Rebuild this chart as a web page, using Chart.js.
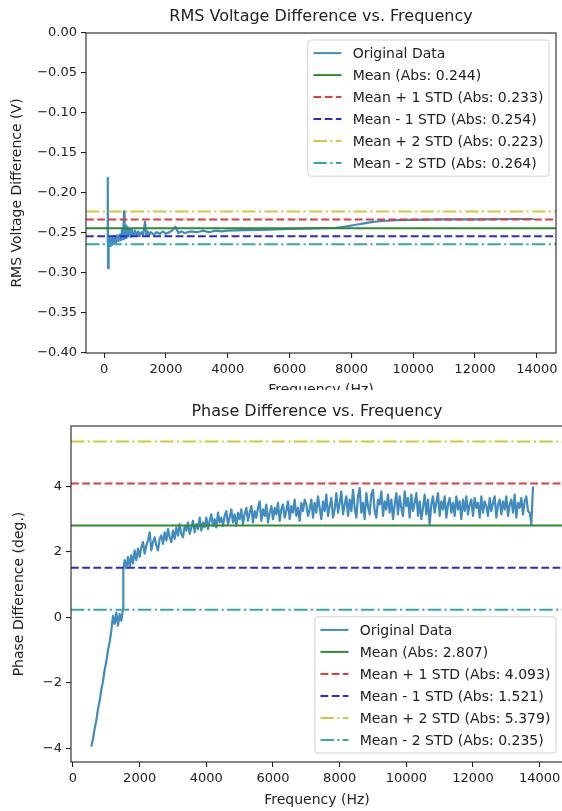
<!DOCTYPE html>
<html>
<head>
<meta charset="utf-8">
<script src="https://cdn.jsdelivr.net/npm/chart.js@4.4.1/dist/chart.umd.min.js"></script>
<style>
  body { margin: 0; background: #fff; }
  #box1 { position: absolute; left: 0; top: 0; width: 562px; height: 400px; }
  #box2 { position: absolute; left: 0; top: 390px; width: 562px; height: 421px; overflow: hidden; background: #fff; }
</style>
</head>
<body>
<div id="box1"><canvas id="rmsChart" width="562" height="400"></canvas></div>
<div id="box2"><canvas id="phaseChart" width="572" height="421"></canvas></div>
<script>

// ---- data ----
var rmsFreq = [100, 115, 125, 135, 150, 170, 190, 210, 240, 270, 300, 340, 380, 420, 460, 500, 540, 580, 610, 640,
  660, 690, 720, 750, 780, 820, 860, 900, 950, 1000, 1050, 1100, 1150, 1200, 1260, 1320, 1360, 1400, 1450, 1500,
  1600, 1700, 1800, 1900, 2000, 2100, 2200, 2300, 2400, 2500, 2600, 2800, 3000, 3200, 3400, 3600, 3800, 4000,
  4500, 5000, 5500, 6000, 6500, 7000, 7500, 7800, 8100, 8400, 8700, 9000, 9500, 10000, 11000, 12000, 13000, 13900];
var rmsVolt = [-0.262, -0.181, -0.294, -0.258, -0.268, -0.256, -0.266, -0.257, -0.265, -0.255, -0.263, -0.254, -0.262, -0.253, -0.260, -0.252, -0.259, -0.244, -0.258, -0.223,
  -0.257, -0.240, -0.256, -0.242, -0.254, -0.245, -0.255, -0.246, -0.254, -0.247, -0.253, -0.248, -0.254, -0.249, -0.252, -0.236, -0.253, -0.248, -0.253, -0.249,
  -0.252, -0.249, -0.251, -0.248, -0.251, -0.249, -0.247, -0.242, -0.250, -0.248, -0.250, -0.248, -0.249, -0.247, -0.249, -0.247, -0.248, -0.247,
  -0.2465, -0.246, -0.2455, -0.245, -0.2445, -0.244, -0.2435, -0.242, -0.240, -0.238, -0.236, -0.235, -0.234, -0.2335, -0.233, -0.233, -0.2325, -0.2325];

var phaseFreq = [550, 600, 650, 700, 750, 800, 850, 900, 950, 1000, 1050, 1100, 1150, 1200, 1250, 1300, 1350, 1400, 1450, 1500,
  1510, 1550, 1600, 1650, 1700, 1750, 1800, 1850, 1900, 1950,
  2000, 2050, 2100, 2150, 2200, 2250, 2300, 2350, 2400, 2450, 2500, 2550, 2600, 2650, 2700, 2750, 2800, 2850, 2900, 2950,
  3000, 3050, 3100, 3150, 3200, 3250, 3300, 3350, 3400, 3450, 3500, 3550, 3600, 3650, 3700, 3750, 3800, 3850, 3900, 3950,
  4000, 4050, 4100, 4150, 4200, 4250, 4300, 4350, 4400, 4450, 4500, 4550, 4600, 4650, 4700, 4750, 4800, 4850, 4900, 4950,
  5000, 5050, 5100, 5150, 5200, 5250, 5300, 5350, 5400, 5450, 5500, 5550, 5600, 5650, 5700, 5750, 5800, 5850, 5900, 5950,
  6000, 6050, 6100, 6150, 6200, 6250, 6300, 6350, 6400, 6450, 6500, 6550, 6600, 6650, 6700, 6750, 6800, 6850, 6900, 6950,
  7000, 7050, 7100, 7150, 7200, 7250, 7300, 7350, 7400, 7450, 7500, 7550, 7600, 7650, 7700, 7750, 7800, 7850, 7900, 7950,
  8000, 8050, 8100, 8150, 8200, 8250, 8300, 8350, 8400, 8450, 8500, 8550, 8600, 8650, 8700, 8750, 8800, 8850, 8900, 8950,
  9000, 9050, 9100, 9150, 9200, 9250, 9300, 9350, 9400, 9450, 9500, 9550, 9600, 9650, 9700, 9750, 9800, 9850, 9900, 9950,
  10000, 10050, 10100, 10150, 10200, 10250, 10300, 10350, 10400, 10450, 10500, 10550, 10600, 10650, 10700, 10750, 10800, 10850, 10900, 10950,
  11000, 11050, 11100, 11150, 11200, 11250, 11300, 11350, 11400, 11450, 11500, 11550, 11600, 11650, 11700, 11750, 11800, 11850, 11900, 11950,
  12000, 12050, 12100, 12150, 12200, 12250, 12300, 12350, 12400, 12450, 12500, 12550, 12600, 12650, 12700, 12750, 12800, 12850, 12900, 12950,
  13000, 13050, 13100, 13150, 13200, 13250, 13300, 13350, 13400, 13450, 13500, 13550, 13600, 13650, 13700, 13750, 13800];
var phaseDeg = [-3.95, -3.7, -3.4, -3.15, -2.8, -2.55, -2.2, -1.95, -1.6, -1.35, -1.0, -0.75, -0.4, 0.05, -0.2, 0.15, -0.25, 0.1, -0.1, 0.25,
  1.45, 1.75, 1.5, 1.85, 1.55, 1.9, 1.65, 2.05, 1.75, 2.1,
  1.85, 2.15, 2.3, 1.95, 2.2, 2.35, 2.6, 2.05, 2.3, 2.45, 2.2, 2.05, 2.4, 2.5, 2.25, 2.6, 2.35, 2.7, 2.45, 2.3,
  2.65, 2.4, 2.75, 2.5, 2.85, 2.55, 2.45, 2.8, 2.65, 2.9, 2.55, 2.75, 2.95, 2.6, 2.85, 2.7, 3.05, 2.65, 2.9, 2.75,
  3.05, 2.7, 2.95, 3.15, 2.8, 3.0, 2.75, 3.2, 2.9, 3.05, 2.8, 3.1, 3.25, 2.85, 3.05, 3.3, 2.9, 3.15, 2.8, 3.2,
  3.0, 3.3, 2.85, 3.15, 3.35, 2.95, 3.2, 3.4, 2.9, 3.25, 3.05, 3.35, 3.55, 2.95, 3.3, 3.1, 3.45, 2.9, 3.2, 3.4,
  3.0, 3.35, 3.15, 3.5, 2.95, 3.3, 3.45, 3.05, 3.25, 3.55, 3.0, 3.4, 3.2, 3.6, 3.1, 3.35, 2.95, 3.5, 3.25, 3.6,
  3.45, 3.1, 3.3, 3.6, 3.05, 3.5, 3.2, 3.7, 3.35, 3.0, 3.55, 3.25, 3.75, 3.1, 3.4, 3.65, 3.05, 3.3, 3.8, 3.2,
  3.5, 3.85, 3.15, 3.45, 3.7, 3.1, 3.6, 3.25, 3.9, 3.35, 3.05, 3.7, 3.95, 3.2, 3.5, 3.0, 3.8, 3.4, 3.15, 3.75,
  3.9, 3.25, 3.05, 3.6, 3.45, 3.85, 3.1, 3.55, 3.3, 3.75, 3.2, 3.6, 3.0, 3.45, 3.8, 3.15, 3.7, 3.35, 3.1, 3.85,
  3.4, 3.65, 3.05, 3.75, 3.25, 3.5, 3.8, 3.1, 3.55, 3.0, 3.35, 3.75, 3.15, 3.6, 2.85, 3.45, 3.7, 3.2, 3.5, 3.8,
  3.1, 3.55, 3.3, 3.7, 3.05, 3.45, 3.65, 3.2, 3.5, 3.1, 3.7, 3.3, 3.55, 3.0, 3.6, 3.25, 3.7, 3.15, 3.45, 3.6,
  3.1, 3.65, 3.35, 3.5, 3.05, 3.7, 3.2, 3.55, 3.4, 3.1, 3.65, 3.25, 3.5, 3.7, 3.05, 3.45, 3.6, 3.15, 3.55, 3.3,
  3.7, 3.1, 3.45, 3.6, 3.2, 3.75, 3.05, 3.5, 3.35, 3.65, 3.15, 3.55, 3.7, 3.25, 3.2, 2.85, 4.0];

var statNames = ['Mean', 'Mean + 1 STD', 'Mean - 1 STD', 'Mean + 2 STD', 'Mean - 2 STD'];
var rmsLevels = [-0.244, -0.233, -0.254, -0.223, -0.264];
var rmsAbs = [0.244, 0.233, 0.254, 0.223, 0.264];
var phaseLevels = [2.807, 4.093, 1.521, 5.379, 0.235];
var phaseAbs = [2.807, 4.093, 1.521, 5.379, 0.235];

var freqTicks = [0, 2000, 4000, 6000, 8000, 10000, 12000, 14000];

// line looks (matplotlib g, r--, b--, y-., c-.)
var statColors = ['#2e8b2e', '#e03c3c', '#2a2ad4', '#d2c83c', '#35a9a9'];
var statDash = [[], [7.8, 3.4], [7.8, 3.4], [13.4, 3.4, 2.1, 3.4], [13.4, 3.4, 2.1, 3.4]];

Chart.defaults.font.family = '"DejaVu Sans", sans-serif';
Chart.defaults.color = '#222';

function minus(s) { return s.replace('-', '\u2212'); }

// box round the plot like matplotlib spines
var frame = {
  id: 'frame',
  afterDatasetsDraw: function(chart) {
    var a = chart.chartArea, c = chart.ctx;
    c.save();
    c.strokeStyle = '#222';
    c.lineWidth = 1.1;
    c.strokeRect(a.left, a.top, a.right - a.left, a.bottom - a.top);
    c.restore();
  }
};

// legend drawn inside the axes
var legendBox = {
  id: 'legendBox',
  afterDraw: function(chart, args, opts) {
    var c = chart.ctx, a = chart.chartArea;
    var sets = chart.data.datasets;
    var pad = 5.6, handle = 28, gap = 11.2, rowH = 15, spacing = 7;
    c.save();
    c.font = '14px "DejaVu Sans"';
    var w = 0;
    sets.forEach(function(d) { w = Math.max(w, c.measureText(d.label).width); });
    var bw = pad * 2 + handle + gap + w;
    var bh = pad * 2 + sets.length * rowH + (sets.length - 1) * spacing;
    var x0 = a.right - opts.right - bw;
    var y0 = opts.where == 'top' ? a.top + opts.gap : a.bottom - opts.gap - bh;

    c.beginPath();
    c.roundRect(x0, y0, bw, bh, 3);
    c.fillStyle = 'rgba(255,255,255,0.8)';
    c.fill();
    c.strokeStyle = '#d0d0d0';
    c.lineWidth = 1;
    c.stroke();

    sets.forEach(function(d, i) {
      var cy = y0 + pad + i * (rowH + spacing) + rowH / 2;
      c.beginPath();
      c.setLineDash(d.borderDash || []);
      c.strokeStyle = d.borderColor;
      c.lineWidth = Math.min(d.borderWidth, 2);
      c.moveTo(x0 + pad, cy);
      c.lineTo(x0 + pad + handle, cy);
      c.stroke();
      c.setLineDash([]);
      c.fillStyle = '#222';
      c.textBaseline = 'middle';
      c.fillText(d.label, x0 + pad + handle + gap, cy + 1);
    });
    c.restore();
  }
};

function buildSets(freq, vals, levels, abs, xmin, xmax) {
  var pts = [];
  for (var i = 0; i < freq.length; i++) pts.push({x: freq[i], y: vals[i]});
  var sets = [{
    label: 'Original Data', data: pts, borderColor: 'rgba(31,119,180,0.85)',
    borderWidth: 2.2, borderJoinStyle: 'round', order: 1
  }];
  for (var k = 0; k < levels.length; k++) {
    sets.push({
      label: statNames[k] + ' (Abs: ' + abs[k].toFixed(3) + ')',
      data: [{x: xmin, y: levels[k]}, {x: xmax, y: levels[k]}],
      borderColor: statColors[k], borderDash: statDash[k], borderWidth: 2, order: 0
    });
  }
  return sets;
}

function makeChart(id, cfg) {
  return new Chart(document.getElementById(id), {
    type: 'line',
    data: { datasets: buildSets(cfg.freq, cfg.vals, cfg.levels, cfg.abs, cfg.xmin, cfg.xmax) },
    plugins: [frame, legendBox],
    options: {
      responsive: false,
      animation: false,
      devicePixelRatio: 1,
      layout: { padding: { left: 0, right: cfg.padRight, top: 0, bottom: 0 } },
      elements: { point: { radius: 0 }, line: { tension: 0, fill: false } },
      plugins: {
        legend: { display: false },
        tooltip: { enabled: false },
        title: {
          display: true, text: cfg.title, fullSize: false, color: '#222',
          font: { size: 16, weight: 'normal' }, padding: cfg.titlePad
        },
        legendBox: cfg.legend
      },
      scales: {
        x: {
          type: 'linear', min: cfg.xmin, max: cfg.xmax,
          afterFit: function(s) { s.height = cfg.xHeight; },
          afterBuildTicks: function(s) { s.ticks = freqTicks.map(function(v) { return {value: v}; }); },
          ticks: { font: { size: 13 }, padding: 4, maxRotation: 0, autoSkip: false,
            callback: function(v) { return String(v); } },
          grid: { drawOnChartArea: false, tickLength: 5, color: '#222', lineWidth: 1.1 },
          border: { display: false },
          title: { display: true, text: 'Frequency (Hz)', font: { size: 14 }, padding: { top: 0, bottom: cfg.xTitlePad } }
        },
        y: {
          type: 'linear', min: cfg.ymin, max: cfg.ymax,
          afterFit: function(s) { s.width = cfg.yWidth; },
          ticks: { font: { size: 13 }, padding: 4, stepSize: cfg.ystep, includeBounds: false,
            callback: cfg.yFormat },
          grid: { drawOnChartArea: false, tickLength: 5, color: '#222', lineWidth: 1.1 },
          border: { display: false },
          title: { display: true, text: cfg.ylabel, font: { size: 14 }, padding: { top: cfg.yTitlePad, bottom: 0 } }
        }
      }
    }
  });
}

makeChart('rmsChart', {
  freq: rmsFreq, vals: rmsVolt, levels: rmsLevels, abs: rmsAbs,
  xmin: -590, xmax: 14620, ymin: -0.4, ymax: 0, ystep: 0.05,
  yFormat: function(v) { return minus(v.toFixed(2)); },
  title: 'RMS Voltage Difference vs. Frequency', titlePad: { top: 7.4, bottom: 6.4 },
  ylabel: 'RMS Voltage Difference (V)', yTitlePad: 8.6,
  yWidth: 86, xHeight: 47, xTitlePad: 1.6, padRight: 6,
  legend: { where: 'top', right: 7, gap: 7 }
});

makeChart('phaseChart', {
  freq: phaseFreq, vals: phaseDeg, levels: phaseLevels, abs: phaseAbs,
  xmin: -60, xmax: 14700, ymin: -4.42, ymax: 5.85, ystep: 2,
  yFormat: function(v) { return minus(String(v)); },
  title: 'Phase Difference vs. Frequency', titlePad: { top: 12.4, bottom: 4.4 },
  ylabel: 'Phase Difference (deg.)', yTitlePad: 10.6,
  yWidth: 71, xHeight: 49, xTitlePad: 2.6, padRight: 9,
  legend: { where: 'bottom', right: 7, gap: 9 }
});
</script>
</body>
</html>
